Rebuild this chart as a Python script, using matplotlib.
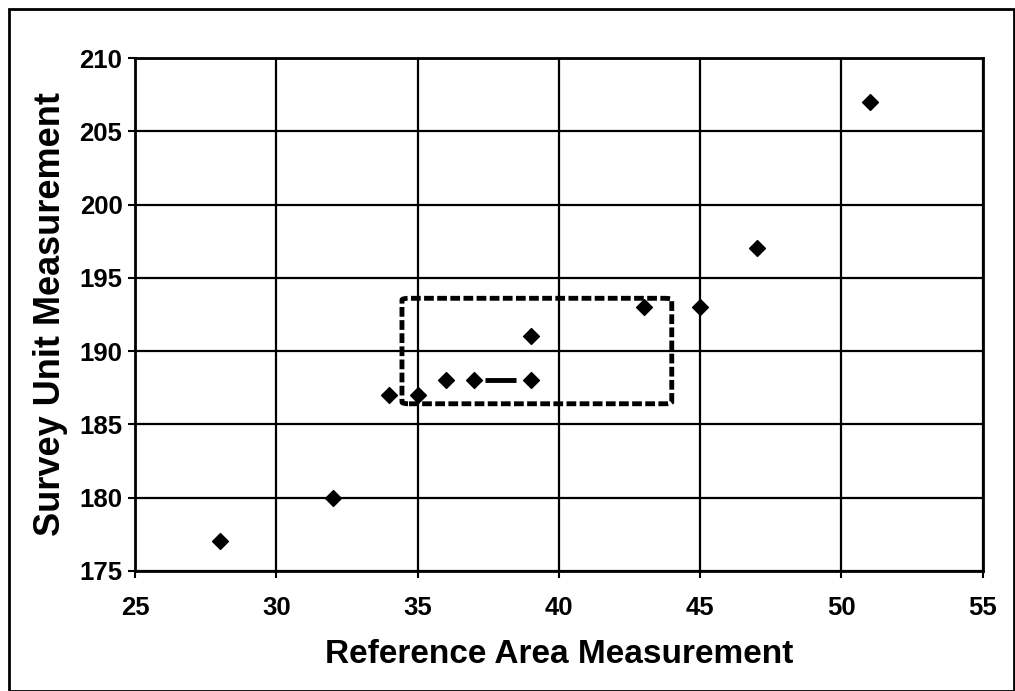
import matplotlib
matplotlib.use("Agg")
import matplotlib.pyplot as plt
from matplotlib.patches import FancyBboxPatch, Rectangle

# data
ref_area = [28, 32, 34, 35, 36, 37, 39, 39, 43, 45, 47, 51]
survey_unit = [177, 180, 187, 187, 188, 188, 188, 191, 193, 193, 197, 207]
x_ticks = [25, 30, 35, 40, 45, 50, 55]
y_ticks = [175, 180, 185, 190, 195, 200, 205, 210]

# dashed box around the middle group, and the short dash at 188
box_x = [34.45, 44.0]
box_y = [186.4, 193.6]
dash_x = [37.4, 38.5]
dash_y = [188, 188]

plt.rcParams['font.family'] = ['Liberation Sans', 'DejaVu Sans']
plt.rcParams['font.weight'] = 'bold'

fig = plt.figure(figsize=(10.15, 6.91), dpi=100)
ax = fig.add_axes([0.133, 0.174, 0.835, 0.742])

ax.scatter(ref_area, survey_unit, marker='D', s=65, color='black', zorder=4)
ax.plot(dash_x, dash_y, color='black', linewidth=3.5, solid_capstyle='butt', zorder=4)

box = FancyBboxPatch((box_x[0], box_y[0]), box_x[1] - box_x[0], box_y[1] - box_y[0],
                     boxstyle="round,pad=0,rounding_size=0.25", mutation_aspect=0.5,
                     fill=False, edgecolor='black', linewidth=3.5, linestyle=(0, (2.0, 0.7)),
                     zorder=5)
ax.add_patch(box)

ax.set_xlim(25, 55)
ax.set_ylim(175, 210)
ax.set_xticks(x_ticks)
ax.set_yticks(y_ticks)
ax.grid(True, color='black', linewidth=1.6)
ax.set_axisbelow(True)
for s in ax.spines.values():
    s.set_linewidth(2)
ax.tick_params(axis='both', labelsize=18.5, width=1.5, length=5, pad=4)
ax.tick_params(axis='x', pad=13)
for lab in ax.get_xticklabels() + ax.get_yticklabels():
    lab.set_fontweight('bold')

ax.set_xlabel("Reference Area Measurement", fontsize=24, fontweight='bold', labelpad=14)
ax.set_ylabel("Survey Unit Measurement", fontsize=26, fontweight='bold', labelpad=8)

# frame around the whole chart
fig.patches.append(Rectangle((0.009, 0.0), 0.99, 0.987, transform=fig.transFigure,
                             fill=False, edgecolor='black', linewidth=2))

fig.savefig("out.png", dpi=100)
